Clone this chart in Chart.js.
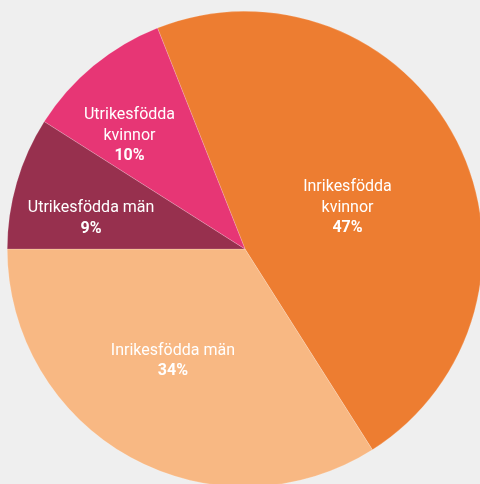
<!DOCTYPE html>
<html>
<head>
<meta charset="utf-8">
<script src="https://cdn.jsdelivr.net/npm/chart.js@4"></script>
<style>
    html, body { margin: 0; padding: 0; background: #efefef; overflow: hidden; width: 480px; height: 484px; }
    #wrap { position: absolute; left: 7px; top: 11px; width: 476px; height: 476px; }
</style>
</head>
<body>
<div id="wrap"><canvas id="pieChart"></canvas></div>
<script>
// Andel per grupp (procent)
const categories = [
    ['Inrikesfödda', 'kvinnor'],
    ['Inrikesfödda män'],
    ['Utrikesfödda män'],
    ['Utrikesfödda', 'kvinnor']
];
const shares = [47, 34, 9, 10];
const colors = ['#ed7d31', '#f8b883', '#97304e', '#e73675'];

// placering av etiketter: andel av radien, vinkeljustering (grader)
const labelRadius = [0.465, 0.56, 0.66, 0.68];
const labelTurn = [5, 4, -5, -6];

const sliceLabels = {
    id: 'sliceLabels',
    afterDatasetsDraw(chart) {
        const ctx = chart.ctx;
        const arcs = chart.getDatasetMeta(0).data;
        ctx.save();
        ctx.fillStyle = '#ffffff';
        ctx.textAlign = 'center';
        ctx.textBaseline = 'middle';
        arcs.forEach((arc, i) => {
            const mid = (arc.startAngle + arc.endAngle) / 2 + labelTurn[i] * Math.PI / 180;
            const r = arc.outerRadius * labelRadius[i];
            const x = arc.x + Math.cos(mid) * r;
            const y = arc.y + Math.sin(mid) * r;
            const lines = categories[i];
            const total = lines.length + 1;
            const lh = 20.5;
            let y0 = y - (total - 1) * lh / 2;
            ctx.font = '16px Roboto';
            lines.forEach((t, k) => ctx.fillText(t, x, y0 + k * lh));
            ctx.font = 'bold 16px Roboto';
            ctx.fillText(shares[i] + '%', x, y0 + lines.length * lh);
        });
        ctx.restore();
    }
};

new Chart(document.getElementById('pieChart'), {
    type: 'pie',
    data: {
        labels: categories.map(c => c.join(' ')),
        datasets: [{
            data: shares,
            backgroundColor: colors,
            borderColor: 'rgba(255,255,255,0.35)',
            borderWidth: 0.5
        }]
    },
    options: {
        responsive: true,
        maintainAspectRatio: false,
        animation: false,
        rotation: -21.6,
        layout: { padding: 0 },
        plugins: {
            legend: { display: false },
            tooltip: { enabled: false }
        }
    },
    plugins: [sliceLabels]
});
</script>
</body>
</html>
